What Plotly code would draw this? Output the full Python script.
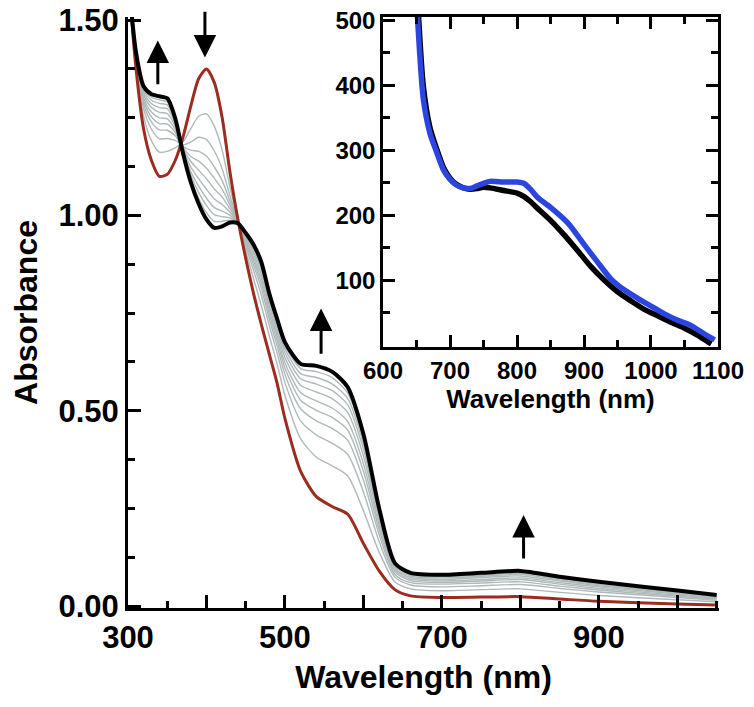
import plotly.graph_objects as go

# ---------------- main panel data ----------------
wavelength = [300, 310, 320, 330, 340, 350, 360, 370, 380, 390, 400, 410, 420, 430, 440, 450,
              460, 470, 480, 490, 500, 520, 540, 560, 580, 600, 620, 640, 660, 700, 750, 800,
              850, 900, 1000, 1050]

initial_abs = [1.62, 1.38, 1.22, 1.14, 1.10, 1.105, 1.14, 1.20, 1.28, 1.35, 1.375, 1.34, 1.25, 1.11,
               0.99, 0.89, 0.80, 0.72, 0.645, 0.57, 0.48, 0.345, 0.28, 0.255, 0.235, 0.16, 0.09,
               0.042, 0.026, 0.022, 0.023, 0.024, 0.018, 0.012, 0.005, 0.003]

final_abs = [1.62, 1.42, 1.33, 1.31, 1.305, 1.30, 1.25, 1.16, 1.085, 1.03, 0.99, 0.968, 0.972, 0.982,
             0.98, 0.955, 0.925, 0.88, 0.80, 0.735, 0.675, 0.62, 0.615, 0.60, 0.56, 0.44, 0.25,
             0.11, 0.085, 0.08, 0.085, 0.09, 0.075, 0.062, 0.04, 0.028]

scan_1 = [1.62, 1.392, 1.253, 1.191, 1.162, 1.164, 1.173, 1.188, 1.222, 1.254, 1.260, 1.228, 1.167, 1.072,
          0.987, 0.910, 0.838, 0.768, 0.692, 0.620, 0.539, 0.428, 0.381, 0.359, 0.333, 0.244, 0.138,
          0.062, 0.044, 0.039, 0.042, 0.044, 0.035, 0.027, 0.016, 0.011]
scan_2 = [1.62, 1.399, 1.272, 1.220, 1.196, 1.197, 1.192, 1.181, 1.188, 1.200, 1.194, 1.165, 1.119, 1.050,
          0.985, 0.921, 0.859, 0.795, 0.718, 0.648, 0.572, 0.474, 0.438, 0.417, 0.388, 0.292, 0.165,
          0.074, 0.054, 0.049, 0.052, 0.055, 0.045, 0.036, 0.022, 0.015]
scan_3 = [1.62, 1.403, 1.284, 1.239, 1.219, 1.218, 1.204, 1.177, 1.167, 1.164, 1.152, 1.124, 1.089, 1.036,
          0.984, 0.928, 0.873, 0.813, 0.735, 0.666, 0.593, 0.505, 0.474, 0.455, 0.424, 0.322, 0.183,
          0.081, 0.060, 0.056, 0.059, 0.062, 0.051, 0.041, 0.025, 0.018]
scan_4 = [1.62, 1.406, 1.293, 1.252, 1.235, 1.234, 1.213, 1.174, 1.151, 1.139, 1.121, 1.095, 1.067, 1.026,
          0.983, 0.933, 0.883, 0.826, 0.747, 0.679, 0.609, 0.527, 0.501, 0.483, 0.450, 0.345, 0.196,
          0.087, 0.065, 0.060, 0.064, 0.068, 0.056, 0.045, 0.028, 0.020]
scan_5 = [1.62, 1.409, 1.300, 1.264, 1.250, 1.247, 1.220, 1.171, 1.138, 1.116, 1.094, 1.068, 1.047, 1.017,
          0.983, 0.938, 0.891, 0.837, 0.758, 0.691, 0.622, 0.546, 0.525, 0.507, 0.472, 0.364, 0.207,
          0.092, 0.069, 0.064, 0.068, 0.072, 0.060, 0.049, 0.031, 0.021]
scan_6 = [1.62, 1.412, 1.308, 1.276, 1.264, 1.261, 1.228, 1.168, 1.124, 1.094, 1.067, 1.042, 1.028, 1.008,
          0.982, 0.942, 0.900, 0.848, 0.769, 0.702, 0.636, 0.565, 0.548, 0.531, 0.495, 0.384, 0.218,
          0.096, 0.073, 0.068, 0.073, 0.077, 0.064, 0.052, 0.033, 0.023]
scan_7 = [1.62, 1.414, 1.315, 1.286, 1.276, 1.273, 1.235, 1.166, 1.112, 1.075, 1.044, 1.020, 1.011, 1.000,
          0.981, 0.946, 0.908, 0.858, 0.778, 0.712, 0.648, 0.582, 0.568, 0.552, 0.515, 0.401, 0.228,
          0.101, 0.077, 0.072, 0.076, 0.081, 0.067, 0.055, 0.035, 0.025]
scan_8 = [1.62, 1.416, 1.320, 1.295, 1.287, 1.283, 1.240, 1.164, 1.103, 1.059, 1.025, 1.002, 0.997, 0.994,
          0.981, 0.949, 0.914, 0.866, 0.786, 0.720, 0.658, 0.595, 0.585, 0.569, 0.531, 0.415, 0.236,
          0.104, 0.080, 0.075, 0.079, 0.084, 0.070, 0.058, 0.037, 0.026]
scan_9 = [1.62, 1.418, 1.325, 1.302, 1.296, 1.291, 1.245, 1.162, 1.094, 1.044, 1.007, 0.985, 0.985, 0.988,
          0.980, 0.952, 0.919, 0.873, 0.793, 0.728, 0.666, 0.608, 0.600, 0.585, 0.545, 0.427, 0.243,
          0.107, 0.082, 0.077, 0.082, 0.087, 0.072, 0.060, 0.038, 0.027]

main_x_ticks = [300, 400, 500, 600, 700, 800, 900, 1000]
main_x_labels = ["300", "", "500", "", "700", "", "900", ""]
main_x_minor = [350, 450, 550, 650, 750, 850, 950, 1050]
main_y_ticks = [0.0, 0.5, 1.0, 1.5]
main_y_labels = ["0.00", "0.50", "1.00", "1.50"]
main_y_minor = [0.125, 0.25, 0.375, 0.625, 0.75, 0.875, 1.125, 1.25, 1.375]

# ---------------- inset data ----------------
inset_blue_wl = [640, 650, 660, 670, 680, 690, 700, 710, 720, 730, 740, 750, 760, 780, 800, 810, 820,
                 830, 850, 870, 880, 900, 920, 940, 960, 980, 1000, 1020, 1040, 1060, 1080, 1095]
inset_blue = [720, 530, 380, 326, 297, 270, 255, 246, 242, 241, 245, 249, 252, 251, 251, 249, 240,
              228, 212, 194, 183, 155, 128, 102, 85, 72, 60, 48, 38, 30, 17, 8]
inset_black_wl = [640, 650, 660, 670, 680, 690, 700, 710, 720, 730, 740, 750, 760, 780, 800, 810, 820,
                  830, 850, 870, 890, 910, 930, 950, 970, 990, 1010, 1030, 1050, 1070, 1085, 1090]
inset_black = [740, 560, 400, 335, 302, 274, 257, 247, 242, 240, 241, 243, 242, 238, 234, 229, 221,
               211, 192, 170, 146, 121, 100, 82, 68, 55, 45, 35, 26, 15, 5, 2]

inset_x_ticks = [600, 700, 800, 900, 1000, 1100]
inset_x_minor = [650, 750, 850, 950, 1050]
inset_y_ticks = [100, 200, 300, 400, 500]
inset_y_minor = [50, 150, 250, 350, 450]

# arrows (data coordinates: x, tail y, head y)
arrow_x = [338, 398, 546, 804]
arrow_tail = [1.332, 1.525, 0.642, 0.118]
arrow_head = [1.448, 1.404, 0.762, 0.233]

RED = "#9C2B20"
GRAY = "#AEB9B9"
BLUE = "#2A45E0"
FONT = "Liberation Sans, Arial, sans-serif"

fig = go.Figure()

for scan in [scan_1, scan_2, scan_3, scan_4, scan_5, scan_6, scan_7, scan_8, scan_9]:
    fig.add_trace(go.Scatter(x=wavelength, y=scan, mode="lines",
                             line=dict(color=GRAY, width=1.4, shape="spline", smoothing=0.7),
                             xaxis="x", yaxis="y", hoverinfo="skip"))

fig.add_trace(go.Scatter(x=wavelength, y=initial_abs, mode="lines",
                         line=dict(color=RED, width=3, shape="spline", smoothing=0.7),
                         xaxis="x", yaxis="y"))
fig.add_trace(go.Scatter(x=wavelength, y=final_abs, mode="lines",
                         line=dict(color="black", width=4, shape="spline", smoothing=0.7),
                         xaxis="x", yaxis="y"))

fig.add_trace(go.Scatter(x=inset_black_wl, y=inset_black, mode="lines",
                         line=dict(color="black", width=5.5, shape="spline", smoothing=0.7),
                         xaxis="x2", yaxis="y2"))
fig.add_trace(go.Scatter(x=inset_blue_wl, y=inset_blue, mode="lines",
                         line=dict(color=BLUE, width=5.5, shape="spline", smoothing=0.7),
                         xaxis="x2", yaxis="y2"))

for xa, ta, ha in zip(arrow_x, arrow_tail, arrow_head):
    fig.add_annotation(x=xa, y=ha, ax=xa, ay=ta, xref="x", yref="y", axref="x", ayref="y",
                       showarrow=True, arrowhead=2, arrowsize=1.5, arrowwidth=3,
                       arrowcolor="black", text="")

main_tick_font = dict(family=FONT, size=31, color="black", weight="bold")
inset_tick_font = dict(family=FONT, size=24, color="black", weight="bold")

# the page adds an 8 px body margin, so the figure is sized to fit the window after it
fig.update_layout(
    width=746, height=699,
    margin=dict(l=120, r=35, t=9, b=99, autoexpand=False),
    paper_bgcolor="white", plot_bgcolor="white",
    showlegend=False,
    font=dict(family=FONT, color="black"),
    xaxis=dict(
        range=[300, 1053], domain=[0, 1], showgrid=False, zeroline=False, automargin=False,
        showline=True, linecolor="black", linewidth=3, ticklabeloverflow="allow",
        tickmode="array", tickvals=main_x_ticks, ticktext=main_x_labels,
        ticks="inside", ticklen=13, tickwidth=3, tickcolor="black",
        minor=dict(tickmode="array", tickvals=main_x_minor, ticks="inside", ticklen=7,
                   tickwidth=3, tickcolor="black"),
        tickfont=main_tick_font,
        title=dict(text="Wavelength (nm)", font=dict(family=FONT, size=32, weight="bold"),
                   standoff=12),
    ),
    yaxis=dict(
        range=[-0.005, 1.508], domain=[0, 1], showgrid=False, zeroline=False, automargin=False,
        showline=True, linecolor="black", linewidth=3, ticklabeloverflow="allow",
        tickmode="array", tickvals=main_y_ticks, ticktext=main_y_labels,
        ticks="inside", ticklen=13, tickwidth=3, tickcolor="black",
        minor=dict(tickmode="array", tickvals=main_y_minor, ticks="inside", ticklen=7,
                   tickwidth=3, tickcolor="black"),
        tickfont=main_tick_font,
        title=dict(text="Absorbance", font=dict(family=FONT, size=32, weight="bold"),
                   standoff=12),
    ),
    xaxis2=dict(
        range=[600, 1100], domain=[0.4315, 0.9983], anchor="y2", showgrid=False, zeroline=False,
        automargin=False, ticklabeloverflow="allow",
        showline=True, linecolor="black", linewidth=2.5, mirror="ticks",
        tickmode="array", tickvals=inset_x_ticks,
        ticks="inside", ticklen=12, tickwidth=2.5, tickcolor="black",
        minor=dict(tickmode="array", tickvals=inset_x_minor, ticks="inside", ticklen=7,
                   tickwidth=2.5, tickcolor="black"),
        tickfont=inset_tick_font,
        title=dict(text="Wavelength (nm)", font=dict(family=FONT, size=26, weight="bold"),
                   standoff=4),
    ),
    yaxis2=dict(
        range=[-3, 505], domain=[0.4416, 1.0], anchor="x2", showgrid=False, zeroline=False,
        automargin=False, ticklabeloverflow="allow",
        showline=True, linecolor="black", linewidth=2.5, mirror="ticks",
        tickmode="array", tickvals=inset_y_ticks,
        ticks="inside", ticklen=12, tickwidth=2.5, tickcolor="black",
        minor=dict(tickmode="array", tickvals=inset_y_minor, ticks="inside", ticklen=7,
                   tickwidth=2.5, tickcolor="black"),
        tickfont=inset_tick_font,
    ),
)

fig.write_html("out.html")
